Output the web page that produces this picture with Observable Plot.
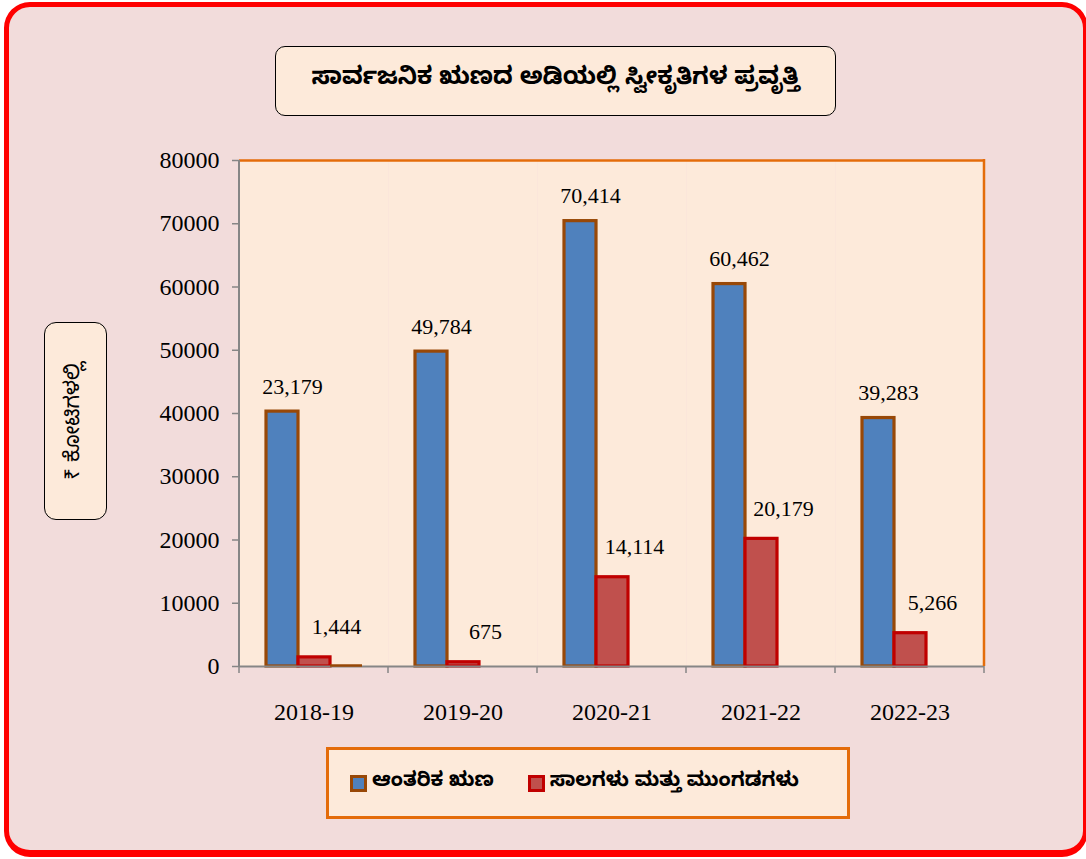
<!DOCTYPE html>
<html>
<head>
<meta charset="utf-8">
<script src="https://cdn.jsdelivr.net/npm/d3@7"></script>
<script src="https://cdn.jsdelivr.net/npm/@observablehq/plot@0.6"></script>
<style>
  html, body { margin: 0; padding: 0; background: #ffffff; }
  #wrap { position: relative; width: 1086px; height: 859px; overflow: hidden; }
  #frame { position: absolute; left: 4px; top: 2px; width: 1084px; height: 855px; box-sizing: border-box;
           border: 5px solid #ff0000; border-bottom-width: 7px; border-radius: 26px; background: #f2dcdb; }
  #chart { position: absolute; left: 0; top: 0; }
  #title { position: absolute; left: 275px; top: 46px; width: 561px; height: 70px; box-sizing: border-box;
           border: 1.5px solid #000; border-radius: 10px; background: #fdeada;
           display: flex; align-items: center; justify-content: center;
           font: bold 24px "Noto Sans Kannada", "Noto Sans", "DejaVu Sans", sans-serif; color: #000; }
  #ylab { position: absolute; left: 44px; top: 322px; width: 63px; height: 198px; box-sizing: border-box;
          border: 1.5px solid #000; border-radius: 12px; background: #fdeada; }
  #ylab span { position: absolute; left: 50%; top: 50%; transform: translate(-50%, -50%) rotate(-90deg);
               white-space: nowrap; font: 21px "Noto Sans Kannada", "Noto Sans", "DejaVu Sans", sans-serif; color: #000; }
  #legend { position: absolute; left: 326px; top: 747px; width: 524px; height: 72px; box-sizing: border-box;
            border: 3px solid #e46c0a; background: #fdeada; display: flex; align-items: center; padding-left: 21px;
            font: bold 20px "Noto Sans Kannada", "Noto Sans", "DejaVu Sans", sans-serif; color: #000; }
  .item { display: flex; align-items: center; margin-right: 34px; }
  .sw { width: 17px; height: 17px; box-sizing: border-box; border: 3px solid; margin-right: 5px; }
</style>
</head>
<body>
<div id="wrap">
  <div id="frame"></div>
  <div id="chart"></div>
  <div id="title"></div>
  <div id="ylab"><span></span></div>
  <div id="legend"></div>
</div>
<script>
// ---- data ----
const years = ["2018-19", "2019-20", "2020-21", "2021-22", "2022-23"];
const seriesNames = ["ಆಂತರಿಕ ಋಣ", "ಸಾಲಗಳು ಮತ್ತು ಮುಂಗಡಗಳು"];
const internalDebt = [40300, 49784, 70414, 60462, 39283];          // bar heights as drawn
const internalDebtLabels = ["23,179", "49,784", "70,414", "60,462", "39,283"];
const loansAdvances = [1444, 675, 14114, 20179, 5266];
const loansAdvancesLabels = ["1,444", "675", "14,114", "20,179", "5,266"];
const strayThird = [0, null, null, null, null];                    // empty third slot (only drawn in 2018-19)
const yTicks = [0, 10000, 20000, 30000, 40000, 50000, 60000, 70000, 80000];
const titleText = "ಸಾರ್ವಜನಿಕ ಋಣದ ಅಡಿಯಲ್ಲಿ ಸ್ವೀಕೃತಿಗಳ ಪ್ರವೃತ್ತಿ";
const yLabelText = "₹ ಕೋಟಿಗಳಲ್ಲಿ";

// ---- styles ----
const blueFill = "#4f81bd", blueStroke = "#984807";
const redFill = "#c0504d", redStroke = "#c00000";
const orange = "#e46c0a", grey = "#868686";

const blueRows = years.map((year, i) => ({year, s: 0, value: internalDebt[i], label: internalDebtLabels[i]}));
const redRows = years.map((year, i) => ({year, s: 1, value: loansAdvances[i], label: loansAdvancesLabels[i]}));
const thirdRows = years.map((year, i) => ({year, s: 2, value: strayThird[i]})).filter(d => d.value != null);

const serif = "'Liberation Serif', 'Times New Roman', serif";

const chart = Plot.plot({
  width: 1086,
  height: 859,
  marginLeft: 237,
  marginRight: 100,
  marginTop: 160,
  marginBottom: 193,
  style: {background: "transparent", fontFamily: serif, fontSize: "22px", color: "#000", overflow: "visible"},
  fx: {domain: years, padding: 0, label: null, axis: null},
  x: {domain: [0, 1, 2], paddingInner: 0, paddingOuter: 0.77, axis: null},
  y: {domain: [0, 80000], axis: null},
  marks: [
    Plot.frame({fill: "#fdeada", stroke: "none"}),
    Plot.ruleY([80000], {stroke: orange, strokeWidth: 2.5}),
    Plot.axisY({ticks: yTicks, tickFormat: d => String(d), tickSize: 7, tickPadding: 13,
                stroke: grey, strokeWidth: 1.5, fill: "#000", fontSize: 24, fontFamily: serif, label: null}),
    Plot.axisFx({anchor: "bottom", tickSize: 0, tickPadding: 36, fill: "#000", fontSize: 24, fontFamily: serif, label: null}),
    Plot.barY(blueRows, {fx: "year", x: "s", y: "value", fill: blueFill, stroke: blueStroke, strokeWidth: 3.2}),
    Plot.barY(redRows, {fx: "year", x: "s", y: "value", fill: redFill, stroke: redStroke, strokeWidth: 3.2}),
    Plot.ruleY([0], {stroke: grey, strokeWidth: 2}),
    Plot.tickY(thirdRows, {fx: "year", x: "s", y: "value", stroke: blueStroke, strokeWidth: 2.5, dy: -1}),
    Plot.text(blueRows, {fx: "year", x: "s", y: "value", text: "label", dy: -25, dx: 10,
                         fontSize: 22, fontFamily: serif, fill: "#000"}),
    Plot.text(redRows, {fx: "year", x: "s", y: "value", text: "label", dy: -30, dx: 22,
                        fontSize: 22, fontFamily: serif, fill: "#000"})
  ]
});

// plot-area edges and category boundary ticks, positioned with the library's scales
const fx = chart.scale("fx"), y = chart.scale("y");
const x0 = fx.apply(years[0]);
const x1 = fx.apply(years[years.length - 1]) + fx.bandwidth;
const yTop = y.apply(80000), yBase = y.apply(0);
const g = d3.select(chart).append("g");
g.append("line").attr("x1", x1).attr("x2", x1).attr("y1", yTop - 1).attr("y2", yBase)
  .attr("stroke", orange).attr("stroke-width", 2.5);
g.append("line").attr("x1", x0).attr("x2", x0).attr("y1", yTop).attr("y2", yBase)
  .attr("stroke", grey).attr("stroke-width", 2);
const bounds = years.map(yr => fx.apply(yr)).concat([x1]);
g.selectAll("line.tick").data(bounds).join("line").attr("class", "tick")
  .attr("x1", d => d).attr("x2", d => d).attr("y1", yBase).attr("y2", yBase + 7)
  .attr("stroke", grey).attr("stroke-width", 1.5);

document.getElementById("chart").appendChild(chart);
document.getElementById("title").textContent = titleText;
document.querySelector("#ylab span").textContent = yLabelText;

const legend = document.getElementById("legend");
[[seriesNames[0], blueFill, blueStroke], [seriesNames[1], redFill, redStroke]].forEach(([name, f, s]) => {
  const it = document.createElement("div");
  it.className = "item";
  const sw = document.createElement("div");
  sw.className = "sw";
  sw.style.background = f;
  sw.style.borderColor = s;
  const t = document.createElement("span");
  t.textContent = name;
  it.appendChild(sw);
  it.appendChild(t);
  legend.appendChild(it);
});
</script>
</body>
</html>
